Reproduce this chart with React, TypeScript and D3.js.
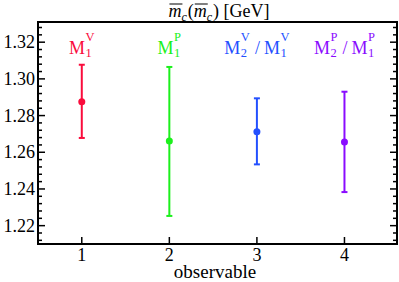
import React, { useEffect, useRef } from "react";
import * as d3 from "d3";

// values
const observables = [1, 2, 3, 4];
const centers = [1.2876, 1.2661, 1.2712, 1.2656];
const uppers = [1.3077, 1.3065, 1.2894, 1.293];
const lowers = [1.2678, 1.2253, 1.2534, 1.2383];
const colors = ["#fa0c3c", "#1cf01c", "#2350ff", "#8a0cff"];
// each label: list of [base, sub, sup] pieces joined by " / "
const labels = [
  [["M", "1", "V"]],
  [["M", "1", "P"]],
  [["M", "2", "V"], ["M", "1", "V"]],
  [["M", "2", "P"], ["M", "1", "P"]],
];
const yMajor = [1.22, 1.24, 1.26, 1.28, 1.30, 1.32];

const W = 399;
const H = 282;
const FONT = "Liberation Serif, DejaVu Serif, serif";

export default function App() {
  const ref = useRef<SVGSVGElement>(null);

  useEffect(() => {
    const svg = d3.select(ref.current);
    svg.selectAll("*").remove();

    const margin = { top: 22, right: 2, bottom: 38, left: 38 };
    const x = d3.scaleLinear().domain([0.5, 4.6]).range([margin.left, W - margin.right]);
    const y = d3.scaleLinear().domain([1.21, 1.331]).range([H - margin.bottom, margin.top]);

    const x0 = margin.left, x1 = W - margin.right;
    const y0 = H - margin.bottom, y1 = margin.top;

    // frame
    svg.append("rect")
      .attr("x", x0).attr("y", y1)
      .attr("width", x1 - x0).attr("height", y0 - y1)
      .attr("fill", "none").attr("stroke", "#000").attr("stroke-width", 2);

    // y ticks (both sides, inward)
    const minor = d3.range(1.212, 1.3301, 0.004).filter(v => !yMajor.some(m => Math.abs(m - v) < 1e-6));
    const tickG = svg.append("g").attr("stroke", "#000").attr("stroke-width", 1.5);
    yMajor.forEach(v => {
      tickG.append("line").attr("x1", x0).attr("x2", x0 + 7).attr("y1", y(v)).attr("y2", y(v));
      tickG.append("line").attr("x1", x1).attr("x2", x1 - 7).attr("y1", y(v)).attr("y2", y(v));
    });
    minor.forEach(v => {
      tickG.append("line").attr("x1", x0).attr("x2", x0 + 4).attr("y1", y(v)).attr("y2", y(v));
      tickG.append("line").attr("x1", x1).attr("x2", x1 - 4).attr("y1", y(v)).attr("y2", y(v));
    });
    observables.forEach(v => {
      tickG.append("line").attr("x1", x(v)).attr("x2", x(v)).attr("y1", y0).attr("y2", y0 - 7);
    });

    svg.append("g").selectAll("text").data(yMajor).enter().append("text")
      .attr("x", x0 - 3).attr("y", d => y(d) + 6)
      .attr("text-anchor", "end")
      .style("font-family", FONT).attr("font-size", 18)
      .text(d => d.toFixed(2));

    svg.append("g").selectAll("text").data(observables).enter().append("text")
      .attr("x", d => x(d)).attr("y", y0 + 17)
      .attr("text-anchor", "middle")
      .style("font-family", FONT).attr("font-size", 18)
      .text(d => d);

    svg.append("text")
      .attr("x", 215).attr("y", 278)
      .attr("text-anchor", "middle")
      .style("font-family", FONT).attr("font-size", 19)
      .text("observable");

    // error bars
    const bars = svg.append("g");
    observables.forEach((o, i) => {
      const g = bars.append("g").attr("stroke", colors[i]).attr("stroke-width", 2);
      g.append("line").attr("x1", x(o)).attr("x2", x(o)).attr("y1", y(lowers[i])).attr("y2", y(uppers[i]));
      g.append("line").attr("x1", x(o) - 3).attr("x2", x(o) + 3).attr("y1", y(lowers[i])).attr("y2", y(lowers[i]));
      g.append("line").attr("x1", x(o) - 3).attr("x2", x(o) + 3).attr("y1", y(uppers[i])).attr("y2", y(uppers[i]));
      bars.append("circle").attr("cx", x(o)).attr("cy", y(centers[i])).attr("r", 3.5).attr("fill", colors[i]);
    });

    // labels with sub/superscripts, measured then centered
    observables.forEach((o, i) => {
      const g = svg.append("g").attr("fill", colors[i]).style("font-family", FONT);
      let cursor = 0;
      labels[i].forEach((p, j) => {
        if (j > 0) {
          const sep = g.append("text").attr("x", cursor + 5).attr("y", 0).attr("font-size", 18).text("/");
          cursor += 5 + (sep.node() as SVGTextElement).getComputedTextLength() + 4;
        }
        const b = g.append("text").attr("x", cursor).attr("y", 0).attr("font-size", 18).text(p[0]);
        cursor += (b.node() as SVGTextElement).getComputedTextLength();
        const sb = g.append("text").attr("x", cursor + 0.5).attr("y", 3).attr("font-size", 12.5).text(p[1]);
        const sp = g.append("text").attr("x", cursor + 0.5).attr("y", -13.5).attr("font-size", 12.5).text(p[2]);
        cursor += 0.5 + Math.max((sb.node() as SVGTextElement).getComputedTextLength(),
          (sp.node() as SVGTextElement).getComputedTextLength());
      });
      g.attr("transform", "translate(" + (x(o) - cursor / 2) + "," + 54 + ")");
    });

    // title: m̄_c(m̄_c) [GeV]
    const t = svg.append("g").style("font-family", FONT);
    let cx = 0;
    const piece = (s: string, size: number, dy: number, italic: boolean, bar: boolean) => {
      const el = t.append("text").attr("x", cx).attr("y", dy).attr("font-size", size)
        .attr("font-style", italic ? "italic" : "normal").text(s);
      const w = (el.node() as SVGTextElement).getComputedTextLength();
      if (bar) {
        t.append("line").attr("x1", cx + 1).attr("x2", cx + w + 1)
          .attr("y1", dy - 13).attr("y2", dy - 13).attr("stroke", "#000").attr("stroke-width", 1);
      }
      cx += w;
    };
    piece("m", 18, 0, true, true);
    piece("c", 12, 4, true, false);
    cx += 1;
    piece("(", 18, 0, false, false);
    piece("m", 18, 0, true, true);
    piece("c", 12, 4, true, false);
    cx += 1;
    piece(") [GeV]", 18, 0, false, false);
    t.attr("transform", "translate(" + (219 - cx / 2) + ",17)");
  }, []);

  return (
    <svg ref={ref} width={W} height={H}
      style={{ position: "absolute", left: 0, top: 0, background: "#fff" }} />
  );
}
